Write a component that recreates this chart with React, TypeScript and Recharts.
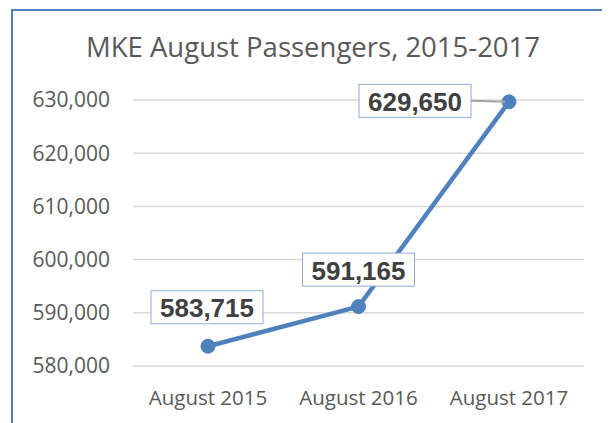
import { LineChart, Line, XAxis, YAxis, CartesianGrid, LabelList } from 'recharts'

const months = ['August 2015', 'August 2016', 'August 2017']
const passengers = [583715, 591165, 629650]
const yTicks = [580000, 590000, 600000, 610000, 620000, 630000]

const chartData = months.map((month, i) => ({ month, passengers: passengers[i] }))

const BLUE = '#4f81bd'
const GREY_TEXT = '#595959'

// where each data label box sits relative to its point
const labelShift = [
  { dx: -1, dy: -39 },
  { dx: 0, dy: -37 },
  { dx: -94, dy: -1 },
]

function ValueLabel(props: any) {
  const { x, y, value, index } = props
  const shift = labelShift[index] ?? { dx: 0, dy: -38 }
  const w = 112
  const h = 33
  const cx = x + shift.dx
  const cy = y + shift.dy
  return (
    <g>
      {index === 2 && (
        <line x1={cx + w / 2} y1={cy} x2={x - 4} y2={y} stroke="#a6a6a6" strokeWidth={2} />
      )}
      <rect x={cx - w / 2} y={cy - h / 2} width={w} height={h} fill="#fff" stroke="#8eaadb" strokeWidth={1} />
      <text
        x={cx}
        y={cy + 1}
        textAnchor="middle"
        dominantBaseline="central"
        fontFamily="'Liberation Sans', Arial, sans-serif"
        fontWeight="bold"
        fontSize={26}
        fill="#404040"
      >
        {Number(value).toLocaleString('en-US')}
      </text>
    </g>
  )
}

export default function App() {
  return (
    <div style={{ position: 'relative', width: 602, height: 415, fontFamily: "'Open Sans', sans-serif" }}>
      <div
        style={{
          position: 'absolute',
          left: 3,
          top: 1,
          width: 620,
          height: 430,
          borderLeft: `2px solid ${BLUE}`,
          borderTop: `2px solid ${BLUE}`,
        }}
      />
      <div
        style={{
          position: 'absolute',
          left: 0,
          width: 610,
          top: 20,
          textAlign: 'center',
          fontSize: 27.5,
          color: GREY_TEXT,
          whiteSpace: 'nowrap',
        }}
      >
        MKE August Passengers, 2015-2017
      </div>
      <div style={{ position: 'absolute', left: 0, top: 0 }}>
        <LineChart width={602} height={415} data={chartData} margin={{ top: 92, right: 26, bottom: 17, left: 0 }}>
          <CartesianGrid vertical={false} stroke="#d9d9d9" strokeWidth={1.5} />
          <XAxis
            dataKey="month"
            axisLine={false}
            tickLine={false}
            tickSize={0}
            tickMargin={24}
            height={40}
            padding={{ left: 75, right: 75 }}
            tick={{ fontSize: 20.5, fill: GREY_TEXT, fontFamily: "'Open Sans', sans-serif" }}
          />
          <YAxis
            domain={[580000, 630000]}
            ticks={yTicks}
            axisLine={false}
            tickLine={false}
            tickSize={0}
            tickMargin={23}
            width={125}
            tickFormatter={(v: number) => v.toLocaleString('en-US')}
            tick={{ fontSize: 21, fill: GREY_TEXT, fontFamily: "'Open Sans', sans-serif" }}
          />
          <Line
            type="linear"
            dataKey="passengers"
            stroke={BLUE}
            strokeWidth={4.5}
            dot={{ r: 7, fill: BLUE, stroke: BLUE, strokeWidth: 1 }}
            isAnimationActive={false}
          >
            <LabelList dataKey="passengers" content={<ValueLabel />} />
          </Line>
        </LineChart>
      </div>
    </div>
  )
}
